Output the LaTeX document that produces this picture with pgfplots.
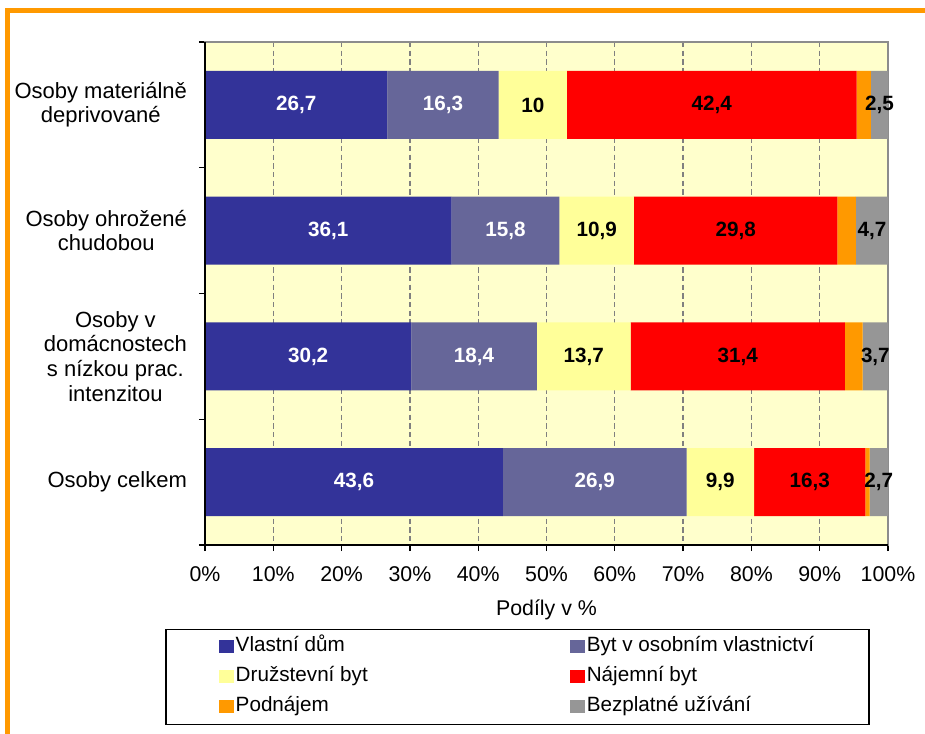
\documentclass[border=0pt]{standalone}
\usepackage{pgfplots}
\pgfplotsset{compat=1.18}
\usepackage{fontspec}
\setmainfont{Liberation Sans}

\definecolor{cDum}{HTML}{333399}
\definecolor{cByt}{HTML}{666699}
\definecolor{cDruz}{HTML}{FFFF99}
\definecolor{cNaj}{HTML}{FF0000}
\definecolor{cPod}{HTML}{FF9900}
\definecolor{cBez}{HTML}{969696}
\definecolor{plotbg}{HTML}{FFFFCC}
\definecolor{frameor}{HTML}{FF9900}

\pgfplotsset{
  midlabel/.style={
    nodes near coords,
    point meta=explicit,
    every node near coord/.append style={anchor=center,
      font=\bfseries\fontsize{15.5}{18}\selectfont, #1},
  },
}

\begin{document}
\begin{tikzpicture}
\begin{scope}[x=0.75pt,y=-0.75pt]
  \useasboundingbox (0,0) rectangle (925,733);
  \draw[frameor, line width=3.75pt] (7,740) -- (7,10) -- (930,10);
\end{scope}

\begin{axis}[
  at={(153.75pt,-408.75pt)}, anchor=south west,
  scale only axis, width=512.25pt, height=377.25pt,
  xbar stacked, bar width=0.54,
  xmin=0, xmax=100, ymin=0.5, ymax=4.5, y dir=reverse,
  enlargelimits=false,
  axis background/.style={fill=plotbg},
  axis line style={draw=gray!90, line width=1.2pt},
  xtick={0,10,...,100},
  xticklabel={\pgfmathprintnumber{\tick}\%},
  xtick pos=bottom, ytick pos=left, tick align=outside,
  major tick length=4.5pt,
  tick style={black, line width=1pt},
  ytick={0.5,1.5,2.5,3.5,4.5}, yticklabels={},
  extra y ticks={1,2,3,4},
  extra y tick labels={{Osoby materiálně\\deprivované},{Osoby ohrožené\\chudobou},{Osoby v\\domácnostech\\s nízkou prac.\\intenzitou},{Osoby celkem}},
  extra y tick style={major tick length=0pt},
  yticklabel style={align=center, font=\fontsize{16.5}{18.4}\selectfont, xshift=-10pt},
  xticklabel style={font=\fontsize{16}{18}\selectfont, yshift=-8pt},
  xmajorgrids,
  grid style={gray, line width=1pt, dash pattern=on 4pt off 2.5pt},
  xlabel={Podíly v \%},
  xlabel style={font=\fontsize{16}{18}\selectfont, yshift=-7pt},
  /pgf/number format/.cd, use comma, 1000 sep={}, assume math mode=true,
  /pgfplots/.cd,
  legend columns=2,
  legend cell align=left,
  legend image code/.code={\fill[#1] (0pt,-4.5pt) rectangle (11.25pt,5.25pt);},
  legend style={at={(axis description cs:0.4575,-0.166)}, anchor=north,
    draw=black, line width=1.2pt, font=\fontsize{15.5}{18}\selectfont,
    inner xsep=39.5pt, inner ysep=2pt,
    nodes={inner ysep=4pt, inner xsep=1.5pt, text height=11pt, text depth=3.5pt, line width=0.4pt},
    /tikz/every odd column/.append style={column sep=0pt},
    /tikz/every even column/.append style={column sep=150pt}},
  after end axis/.code={
    \draw[black, line width=1.5pt] (axis description cs:0,1) -- (axis description cs:0,0) -- (axis description cs:1,0);
  },
]
\addplot[fill=cDum, draw=none, midlabel={white}]
  coordinates {(26.7,1) [26.7] (36.1,2) [36.1] (30.2,3) [30.2] (43.6,4) [43.6]};
\addplot[fill=cByt, draw=none, midlabel={white}]
  coordinates {(16.3,1) [16.3] (15.8,2) [15.8] (18.4,3) [18.4] (26.9,4) [26.9]};
\addplot[fill=cDruz, draw=none, midlabel={black}]
  coordinates {(10,1) [10] (10.9,2) [10.9] (13.7,3) [13.7] (9.9,4) [9.9]};
\addplot[fill=cNaj, draw=none, midlabel={black}]
  coordinates {(42.4,1) [42.4] (29.8,2) [29.8] (31.4,3) [31.4] (16.3,4) [16.3]};
\addplot[fill=cPod, draw=none]
  coordinates {(2.1,1) (2.7,2) (2.6,3) (0.6,4)};
\addplot[fill=cBez, draw=none, midlabel={black}]
  coordinates {(2.5,1) [2.5] (4.7,2) [4.7] (3.7,3) [3.7] (2.7,4) [2.7]};
\legend{Vlastní dům, Byt v osobním vlastnictví, Družstevní byt, Nájemní byt, Podnájem, Bezplatné užívání}
\end{axis}
\end{tikzpicture}
\end{document}
